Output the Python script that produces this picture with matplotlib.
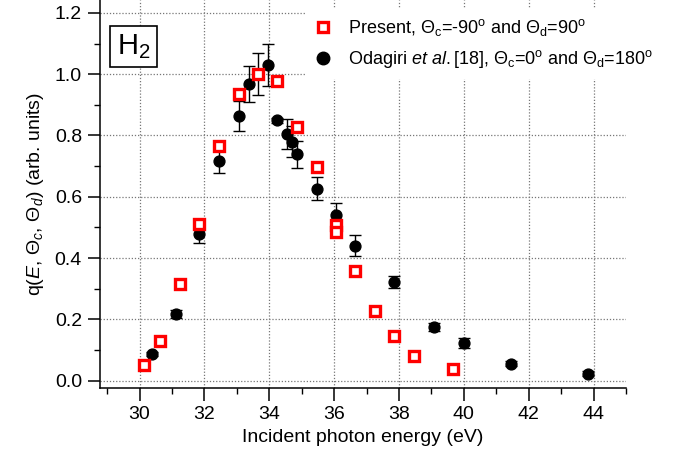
import matplotlib
matplotlib.use('Agg')
import matplotlib.pyplot as plt
from matplotlib.lines import Line2D
from matplotlib.ticker import MultipleLocator, FormatStrFormatter

plt.rcParams['font.family'] = ['Liberation Sans', 'DejaVu Sans']
plt.rcParams['mathtext.fontset'] = 'custom'
plt.rcParams['mathtext.rm'] = 'Liberation Sans'
plt.rcParams['mathtext.it'] = 'Liberation Sans:italic'
plt.rcParams['mathtext.bf'] = 'Liberation Sans:bold'

# Present work: Theta_c=-90, Theta_d=90
present_E = [30.14, 30.64, 31.24, 31.83, 32.45, 33.06, 33.65, 34.25, 34.85,
             35.46, 36.05, 36.05, 36.65, 37.26, 37.86, 38.46, 39.66]
present_q = [0.050, 0.130, 0.315, 0.512, 0.764, 0.935, 1.000, 0.978, 0.828,
             0.697, 0.509, 0.485, 0.358, 0.227, 0.145, 0.082, 0.038]
present_err = [0.008, 0.008, 0.008, 0.008, 0.008, 0.010, 0.008, 0.010, 0.010,
               0.008, 0.010, 0.010, 0.008, 0.008, 0.008, 0.008, 0.008]

# Odagiri et al. [18]: Theta_c=0, Theta_d=180
odagiri_E = [30.39, 31.12, 31.83, 32.45, 33.06, 33.36, 33.65, 33.96, 34.25, 34.56,
             34.71, 34.85, 35.46, 36.05, 36.65, 37.85, 39.08, 40.01, 41.45, 43.82]
odagiri_q = [0.087, 0.216, 0.478, 0.716, 0.863, 0.968, 1.000, 1.030, 0.850, 0.805,
             0.780, 0.738, 0.626, 0.542, 0.440, 0.323, 0.175, 0.123, 0.055, 0.023]
odagiri_err = [0.008, 0.013, 0.030, 0.040, 0.050, 0.058, 0.068, 0.067, 0.008, 0.050,
               0.050, 0.043, 0.037, 0.037, 0.034, 0.020, 0.012, 0.015, 0.008, 0.008]

label_present = r'Present, $\Theta_{\rm c}$=-90$^{\rm o}$ and $\Theta_{\rm d}$=90$^{\rm o}$'
label_odagiri = r'Odagiri $et\ al.$[18], $\Theta_{\rm c}$=0$^{\rm o}$ and $\Theta_{\rm d}$=180$^{\rm o}$'

RED = '#ff0000'

fig = plt.figure(figsize=(6.82, 4.61), dpi=100)
ax = fig.add_axes([100/682, 1 - 388/461, 526/682, 388/461])

ax.errorbar(odagiri_E, odagiri_q, yerr=odagiri_err, fmt='o', color='black',
            markersize=7.8, ecolor='black', elinewidth=1.0, capsize=4, capthick=1.0,
            zorder=3)
ax.errorbar(present_E, present_q, yerr=present_err, fmt='s', color=RED,
            markerfacecolor='white', markeredgecolor=RED, markeredgewidth=2.4,
            markersize=7.0, ecolor=RED, elinewidth=1.0, capsize=2, capthick=1.0,
            zorder=4)

ax.set_xlim(28.78, 45.0)
ax.set_ylim(-0.024, 1.242)
ax.xaxis.set_major_locator(MultipleLocator(2))
ax.xaxis.set_minor_locator(MultipleLocator(1))
ax.yaxis.set_major_locator(MultipleLocator(0.2))
ax.yaxis.set_minor_locator(MultipleLocator(0.1))
ax.yaxis.set_major_formatter(FormatStrFormatter('%.1f'))

for s in ['top', 'right']:
    ax.spines[s].set_visible(False)
for s in ['left', 'bottom']:
    ax.spines[s].set_linewidth(1.1)

ax.tick_params(which='major', direction='out', length=9, width=1.1, labelsize=14, pad=4)
ax.tick_params(which='minor', direction='out', length=4.5, width=1.0)
ax.grid(True, which='major', linestyle=(0, (1, 1.5)), color='#777777', linewidth=0.9)
ax.set_axisbelow(True)

ax.set_xlabel('Incident photon energy (eV)', fontsize=14, labelpad=4)
ax.set_ylabel(r'q($E$, $\Theta_c$, $\Theta_d$) (arb. units)', fontsize=14, labelpad=6)

ax.text(0.0245 + 0.007, 0.88, r'H$_2$', transform=ax.transAxes, fontsize=21, va='center', ha='left',
        bbox=dict(boxstyle='square,pad=0.22', facecolor='white', edgecolor='black', linewidth=1.2),
        zorder=6)

proxy_present = Line2D([], [], linestyle='none', marker='s', markersize=7.0,
                       markerfacecolor='white', markeredgecolor=RED, markeredgewidth=2.4)
proxy_odagiri = Line2D([], [], linestyle='none', marker='o', markersize=9.0,
                       color='black')
leg = ax.legend([proxy_present, proxy_odagiri], [label_present, label_odagiri],
                loc='upper left', bbox_to_anchor=(305/682, 1.0 - 8/461),
                bbox_transform=fig.transFigure,
                frameon=True, fontsize=13, handletextpad=0.9, handlelength=1.0,
                borderpad=0.5, labelspacing=0.55, borderaxespad=0.0, framealpha=1.0)
leg.get_frame().set_edgecolor('none')
leg.get_frame().set_facecolor('white')
leg.get_frame().set_boxstyle('square', pad=0.0)
leg.set_zorder(7)

fig.savefig('out.png', dpi=100)
